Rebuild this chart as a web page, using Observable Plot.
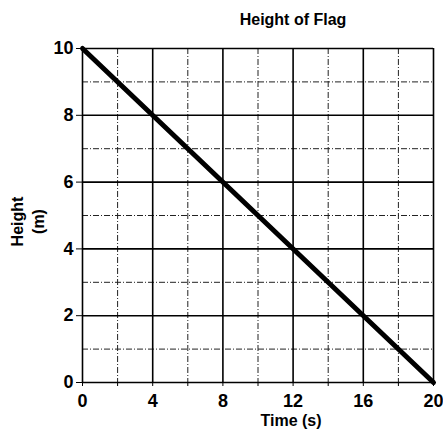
<!DOCTYPE html>
<html>
<head>
<meta charset="utf-8">
<script src="https://cdn.jsdelivr.net/npm/d3@7"></script>
<script src="https://cdn.jsdelivr.net/npm/@observablehq/plot@0.6"></script>
<style>
  html, body { margin: 0; padding: 0; background: #fff; }
  svg { font-family: "Liberation Sans", Arial, sans-serif; }
</style>
</head>
<body>
<div id="chart"></div>
<script>
const time = [0, 20];
const height = [10, 0];
const xMajor = [0, 4, 8, 12, 16, 20];
const xMinor = [2, 6, 10, 14, 18];
const yMajor = [0, 2, 4, 6, 8, 10];
const yMinor = [1, 3, 5, 7, 9];
const xTicks = [0, 2, 4, 6, 8, 10, 12, 14, 16, 18, 20];
const xLabels = ["0", "", "4", "", "8", "", "12", "", "16", "", "20"];
const title = "Height of Flag";
const xTitle = "Time (s)";
const yTitle = "Height\n(m)";

const data = time.map((t, i) => ({time: t, height: height[i]}));

const chart = Plot.plot({
  width: 443,
  height: 436,
  marginLeft: 82,
  marginRight: 10,
  marginTop: 48,
  marginBottom: 54,
  x: {domain: [0, 20]},
  y: {domain: [0, 10]},
  style: {background: "#fff", color: "#000"},
  marks: [
    Plot.ruleX(xMinor, {stroke: "#222", strokeWidth: 1, strokeDasharray: "6,2,1,2"}),
    Plot.ruleY(yMinor, {stroke: "#222", strokeWidth: 1, strokeDasharray: "6,2,1,2"}),
    Plot.ruleX(xMajor, {stroke: "#000", strokeWidth: 1.6}),
    Plot.ruleY(yMajor, {stroke: "#000", strokeWidth: 1.6}),
    Plot.axisX({
      ticks: xTicks,
      tickFormat: (d) => xLabels[xTicks.indexOf(d)],
      tickSize: 4,
      tickPadding: 8,
      label: null,
      fontSize: 18,
      fontWeight: "bold",
      strokeWidth: 1
    }),
    Plot.axisY({
      ticks: yMajor,
      tickSize: 6,
      tickPadding: 3,
      label: null,
      fontSize: 18,
      fontWeight: "bold",
      strokeWidth: 1
    }),
    Plot.line(data, {x: "time", y: "height", stroke: "#000", strokeWidth: 5}),
    Plot.text([title], {frameAnchor: "top", dx: 35, dy: -35, fontSize: 16, fontWeight: "bold", fill: "#000"}),
    Plot.text([xTitle], {frameAnchor: "bottom", dx: 33, dy: 43, fontSize: 16, fontWeight: "bold", fill: "#000"}),
    Plot.text([yTitle], {frameAnchor: "left", textAnchor: "middle", dx: -56, dy: 6, rotate: -90, fontSize: 16, fontWeight: "bold", lineHeight: 1.3, fill: "#000"})
  ]
});
document.getElementById("chart").appendChild(chart);
</script>
</body>
</html>
